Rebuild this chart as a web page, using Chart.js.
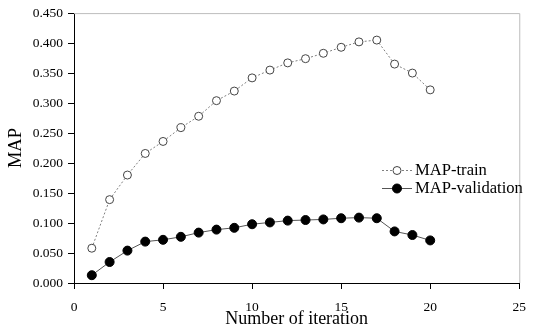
<!DOCTYPE html>
<html>
<head>
<meta charset="utf-8">
<script src="https://cdn.jsdelivr.net/npm/chart.js@4.4.1/dist/chart.umd.min.js"></script>
<style>
html,body{margin:0;padding:0;background:#fff;}
#wrap{width:536px;height:329px;position:relative;}
</style>
</head>
<body>
<div id="wrap"><canvas id="c" width="536" height="329"></canvas></div>
<script>
const iterations = [1,2,3,4,5,6,7,8,9,10,11,12,13,14,15,16,17,18,19,20];
const mapTrain = [0.058,0.139,0.180,0.216,0.236,0.259,0.278,0.304,0.320,0.342,0.355,0.367,0.374,0.383,0.393,0.402,0.405,0.365,0.350,0.322];
const mapValidation = [0.013,0.035,0.054,0.069,0.072,0.077,0.084,0.089,0.092,0.098,0.101,0.104,0.105,0.106,0.108,0.109,0.108,0.086,0.080,0.071];
const seriesLabels = ['MAP-train','MAP-validation'];
const xTitle = 'Number of iteration';
const yTitle = 'MAP';

const serif = "'Liberation Serif','Times New Roman',serif";

const framePlugin = {
  id: 'frame',
  afterDraw(chart) {
    const {ctx, chartArea: a} = chart;
    ctx.save();
    ctx.strokeStyle = '#bdbdbd';
    ctx.lineWidth = 1;
    ctx.beginPath();
    ctx.moveTo(a.left, a.top + 0.5);
    ctx.lineTo(a.right + 0.5, a.top + 0.5);
    ctx.lineTo(a.right + 0.5, a.bottom);
    ctx.stroke();
    ctx.restore();
  }
};

const legendPlugin = {
  id: 'lineLegend',
  afterDraw(chart) {
    const ctx = chart.ctx;
    const x0 = 382, x1 = 412, tx = 415;
    const rows = [170, 188];
    ctx.save();
    chart.data.datasets.forEach((ds, i) => {
      const y = rows[i];
      ctx.strokeStyle = ds.borderColor;
      ctx.lineWidth = ds.borderWidth;
      ctx.setLineDash(ds.borderDash || []);
      ctx.beginPath();
      ctx.moveTo(x0, y + 0.5);
      ctx.lineTo(x1, y + 0.5);
      ctx.stroke();
      ctx.setLineDash([]);
      ctx.beginPath();
      ctx.arc((x0 + x1) / 2, y + 0.5, ds.pointRadius, 0, Math.PI * 2);
      ctx.fillStyle = ds.pointBackgroundColor;
      ctx.fill();
      ctx.strokeStyle = ds.pointBorderColor;
      ctx.lineWidth = 1;
      ctx.stroke();
      ctx.fillStyle = '#000';
      ctx.font = '16.6px ' + serif;
      ctx.textBaseline = 'middle';
      ctx.textAlign = 'left';
      ctx.fillText(ds.label, tx, y + 1);
    });
    ctx.restore();
  }
};

new Chart(document.getElementById('c'), {
  type: 'line',
  data: {
    datasets: [
      {
        label: seriesLabels[0],
        data: iterations.map((x, i) => ({x, y: mapTrain[i]})),
        borderColor: '#808080',
        borderWidth: 1,
        borderDash: [2, 2],
        pointRadius: 4,
        pointBackgroundColor: '#ffffff',
        pointBorderColor: '#444444',
        pointBorderWidth: 1,
        tension: 0
      },
      {
        label: seriesLabels[1],
        data: iterations.map((x, i) => ({x, y: mapValidation[i]})),
        borderColor: '#555555',
        borderWidth: 1,
        pointRadius: 4.5,
        pointBackgroundColor: '#000000',
        pointBorderColor: '#000000',
        pointBorderWidth: 1,
        tension: 0
      }
    ]
  },
  options: {
    responsive: false,
    animation: false,
    layout: {padding: {top: 12, right: 8, left: 0, bottom: 0}},
    plugins: {legend: {display: false}, tooltip: {enabled: false}},
    scales: {
      x: {
        type: 'linear', min: 0, max: 25,
        ticks: {stepSize: 5, color: '#000', padding: 10, font: {family: serif, size: 13.5}, maxRotation: 0},
        grid: {drawOnChartArea: false, tickLength: 6, color: '#000'},
        border: {color: '#000', width: 1},
        title: {display: true, text: xTitle, color: '#000', font: {family: serif, size: 18, lineHeight: 1.1}, padding: {top: 0, bottom: 0}},
        afterFit(s) { s.height = 46; }
      },
      y: {
        type: 'linear', min: 0, max: 0.45,
        ticks: {stepSize: 0.05, color: '#000', padding: 5, font: {family: serif, size: 13.5},
          callback: v => Number(v).toFixed(3)},
        grid: {drawOnChartArea: false, tickLength: 6, color: '#000'},
        border: {color: '#000', width: 1},
        title: {display: true, text: yTitle, color: '#000', font: {family: serif, size: 18.5}, padding: {top: 5, bottom: 0}},
        afterFit(s) { s.width = 74; }
      }
    }
  },
  plugins: [framePlugin, legendPlugin]
});
</script>
</body>
</html>
